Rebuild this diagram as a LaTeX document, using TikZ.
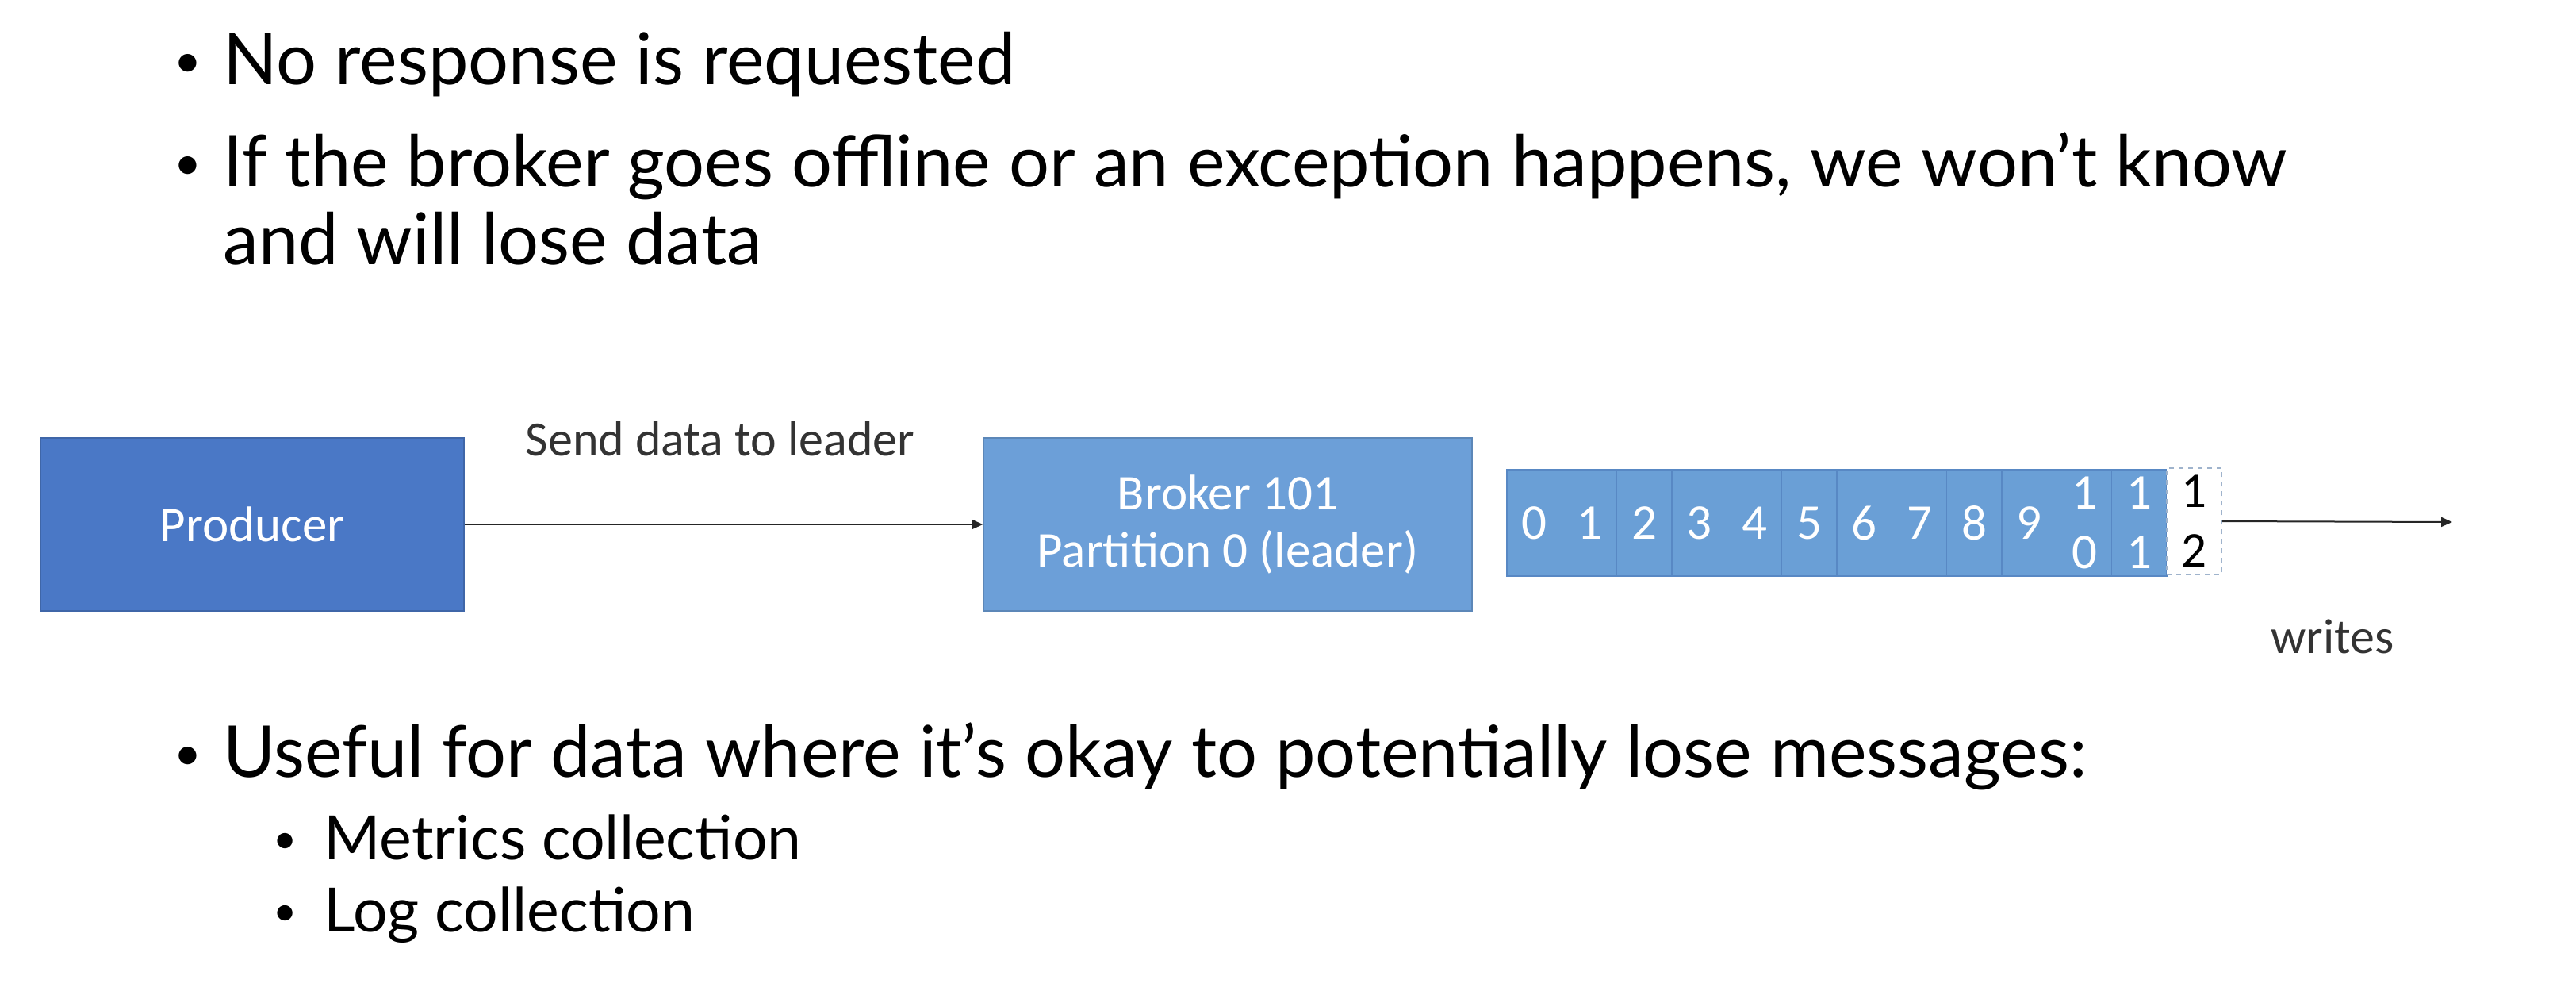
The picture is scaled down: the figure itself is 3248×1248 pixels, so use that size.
\documentclass[tikz,border=0pt]{standalone}
\usepackage{fontspec}
\setmainfont{Lato}
\newfontfamily\calib{Carlito}
\usetikzlibrary{arrows.meta}
\definecolor{prodblue}{HTML}{4A78C6}
\definecolor{brokblue}{HTML}{6C9FD8}
\definecolor{cellblue}{HTML}{6A9FD6}
\definecolor{celledge}{HTML}{5888C4}
\definecolor{dashedge}{HTML}{9FB3CC}
\begin{document}
\begin{tikzpicture}[x=0.5pt,y=-0.5pt,
  txt/.style={inner sep=0pt, anchor=base west, font=\fontsize{45}{54}\selectfont},
  subtxt/.style={inner sep=0pt, anchor=base west, font=\fontsize{38.5}{46}\selectfont},
  bul/.style={inner sep=0pt, anchor=base, font=\fontsize{30}{36}\selectfont},
  subbul/.style={inner sep=0pt, anchor=base, font=\fontsize{26}{31}\selectfont},
  box/.style={inner sep=0pt, minimum height=109pt, text=white, align=center,
    font=\calib\fontsize{31.5}{36}\selectfont},
  cell/.style={draw=celledge, line width=0.6pt, fill=cellblue, minimum width=34.65pt,
    minimum height=67pt, inner sep=0pt, text=white, font=\calib\fontsize{31.5}{31.5}\selectfont},
  cell2/.style={cell, align=center, font=\calib\fontsize{31.5}{37.5}\selectfont},
  newcell/.style={cell2, draw=dashedge, dashed, fill=white, text=black},
  arr/.style={-{Triangle[length=7pt,width=6pt]}, line width=1pt, draw=black!85},
  lbl/.style={inner sep=0pt, anchor=base, font=\calib\fontsize{31}{33}\selectfont, text=black!80}
]
\fill[white] (0,0) rectangle (3248,1248);
\useasboundingbox (0,0) rectangle (3248,1248);

% bullets
\node[bul] (b1) at (237,97) {•};
\node[txt] (t1) at (281,106) {No response is requested};
\node[bul] (b2) at (237,226) {•};
\node[txt] (t2a) at (281,235) {If the broker goes offline or an exception happens, we won’t know};
\node[txt] (t2b) at (281,333) {and will lose data};
\node[bul] (b3) at (237,970) {•};
\node[txt] (t3) at (281,979) {Useful for data where it’s okay to potentially lose messages:};
\node[subbul] (b4) at (360,1075) {•};
\node[subtxt] (t4) at (408,1083) {Metrics collection};
\node[subbul] (b5) at (360,1166) {•};
\node[subtxt] (t5) at (408,1174) {Log collection};

% boxes
\node[box, fill=prodblue, draw=prodblue!85!black, line width=0.6pt, minimum width=267pt] (producer) at (318,661) {Producer};
\node[box, fill=brokblue, draw=brokblue!85!black, line width=0.6pt, minimum width=308pt] (broker) at (1548,661) {Broker 101\\Partition 0 (leader)};
\draw[arr] (producer.east) -- (broker.west);
\node[lbl] (sendlbl) at (908,574) {Send data to leader};

% log cells
\foreach \i in {0,...,9} {
  \node[cell] (c\i) at ({1900+69.33*(\i+0.5)},659) {\i};
}
\node[cell2] (c10) at ({1900+69.33*10.5},659) {1\\0};
\node[cell2] (c11) at ({1900+69.33*11.5},659) {1\\1};
\node[newcell] (cnew) at ({1900+69.33*12.5},657) {1\\2};
\coordinate (wend) at (3092,658);
\draw[arr] (cnew.east) -- (wend);
\node[lbl] (writes) at (2941,823) {writes};
\end{tikzpicture}
\end{document}
